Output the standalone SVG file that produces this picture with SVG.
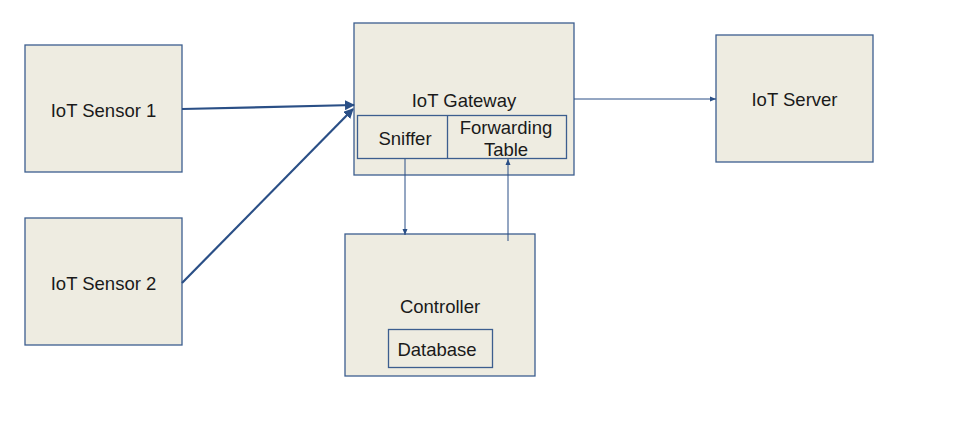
<svg xmlns="http://www.w3.org/2000/svg" width="955" height="445" viewBox="0 0 955 445">
<style>
.box{fill:#eeece1;stroke:#3c5e8f;stroke-width:1.3}
.inner{fill:none;stroke:#3c5e8f;stroke-width:1.3}
.t{font-family:"Liberation Sans",Arial,sans-serif;font-size:18.5px;fill:#1a1a1a;text-anchor:middle}
.thick{stroke:#2a4f86;stroke-width:2.2;fill:none}
.thin{stroke:#2a4f86;stroke-width:1;fill:none}
</style>
<defs>
<marker id="big" markerWidth="10" markerHeight="10" refX="9" refY="5" orient="auto" markerUnits="userSpaceOnUse" viewBox="0 0 10 10">
<path d="M0,0 L10,5 L0,10 Z" fill="#2a4f86"/>
</marker>
<marker id="small" markerWidth="6" markerHeight="6" refX="6" refY="3" orient="auto" markerUnits="userSpaceOnUse" viewBox="0 0 6 6">
<path d="M0,0.5 L6,3 L0,5.5 Z" fill="#2a4f86"/>
</marker>
</defs>
<rect width="955" height="445" fill="#ffffff"/>
<g id="sensor1"><rect class="box" x="25" y="45" width="157" height="127"/><text class="t" x="103.5" y="117">IoT Sensor 1</text></g>
<g id="sensor2"><rect class="box" x="25" y="218" width="157" height="127"/><text class="t" x="103.5" y="290">IoT Sensor 2</text></g>
<g id="gateway"><rect class="box" x="354" y="23" width="220" height="152"/><text class="t" x="464" y="107">IoT Gateway</text>
<rect class="inner" x="357.5" y="115.5" width="209" height="43"/>
<line class="inner" x1="447.5" y1="115.5" x2="447.5" y2="158.5"/>
<text class="t" x="405" y="145">Sniffer</text>
<text class="t" x="506" y="134">Forwarding</text>
<text class="t" x="506" y="156">Table</text></g>
<g id="server"><rect class="box" x="716" y="35" width="157" height="127"/><text class="t" x="794.5" y="106">IoT Server</text></g>
<g id="controller"><rect class="box" x="345" y="234" width="190" height="142"/><text class="t" x="440" y="313">Controller</text>
<rect class="inner" x="388.5" y="329.5" width="104" height="38"/><text class="t" x="437" y="356">Database</text></g>
<g id="connectors">
<line class="thick" x1="182" y1="109" x2="354" y2="105" marker-end="url(#big)"/>
<line class="thick" x1="182" y1="283" x2="353" y2="109" marker-end="url(#big)"/>
<line class="thin" x1="574" y1="99" x2="716" y2="99" marker-end="url(#small)"/>
<line class="thin" x1="405" y1="159" x2="405" y2="235" marker-end="url(#small)"/>
<line class="thin" x1="508" y1="241" x2="508" y2="159" marker-end="url(#small)"/>
</g>
</svg>
